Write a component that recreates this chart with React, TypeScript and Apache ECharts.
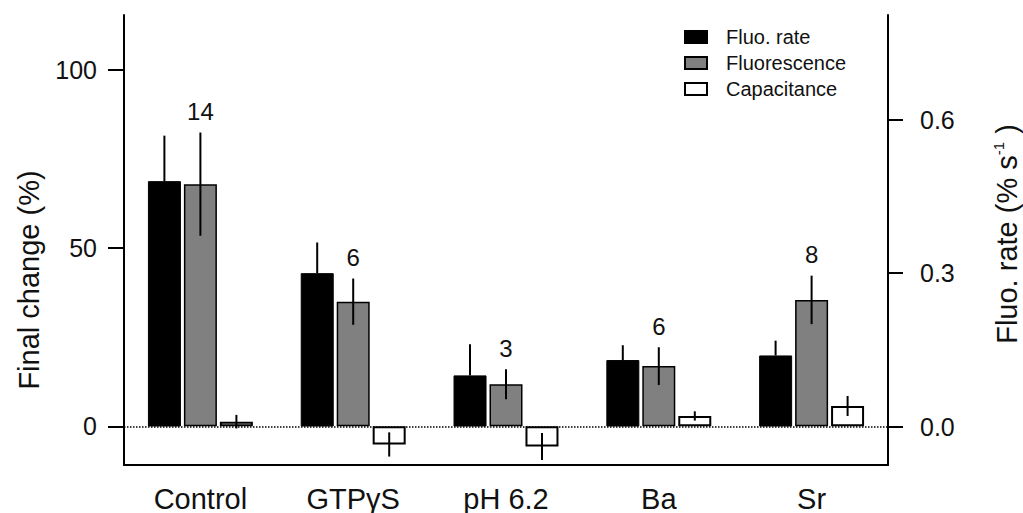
import React, { useEffect, useRef } from 'react';
import * as echarts from 'echarts';

const categories = ['Control', 'GTPγS', 'pH 6.2', 'Ba', 'Sr'];
const fluoRate = [0.48, 0.3, 0.1, 0.13, 0.139];
const fluoRateErr = [0.089, 0.06, 0.061, 0.029, 0.029];
const fluorescence = [68.0, 35.0, 11.8, 16.9, 35.5];
const fluorescenceErr = [14.5, 6.5, 4.2, 5.3, 6.8];
const capacitance = [1.3, -5.1, -5.7, 2.9, 5.7];
const capacitanceErr = [1.9, 3.4, 3.8, 1.3, 2.8];
const nCells = ['14', '6', '3', '6', '8'];
const leftTicks = [0, 50, 100];
const rightTicks = [0, 0.3, 0.6];

const FONT = '"Liberation Sans", Arial, Helvetica, sans-serif';
const INK = '#111';

function makeErr(
  name: string,
  means: number[],
  errs: number[],
  yIdx: number,
  offset: number,
  upOnly: boolean,
  labels?: string[]
) {
  return {
    type: 'custom',
    name,
    yAxisIndex: yIdx,
    z: 5,
    silent: true,
    data: means.map((m, i) => [i, m, errs[i]]),
    encode: { x: 0, y: 1 },
    renderItem: (params: any, api: any) => {
      const i = api.value(0);
      const m = api.value(1);
      const e = api.value(2);
      const p1 = api.coord([i, m + e]);
      const p0 = api.coord([i, upOnly ? m : m - e]);
      const x = p1[0] + offset;
      const children: any[] = [
        {
          type: 'line',
          shape: { x1: x, y1: p0[1], x2: x, y2: p1[1] },
          style: { stroke: '#000', lineWidth: 2 },
        },
      ];
      if (labels) {
        children.push({
          type: 'text',
          x,
          y: p1[1] - 21,
          style: {
            text: labels[params.dataIndex],
            fontSize: 24,
            fill: INK,
            align: 'center',
            verticalAlign: 'middle',
            fontFamily: FONT,
          },
        });
      }
      return { type: 'group', children };
    },
  };
}

export default function App() {
  const ref = useRef<HTMLDivElement>(null);
  useEffect(() => {
    if (!ref.current) return;
    const chart = echarts.init(ref.current, undefined, { renderer: 'svg' });
    const option: any = {
      animation: false,
      backgroundColor: '#fff',
      textStyle: { fontFamily: FONT },
      grid: { left: 124, right: 135, top: 15, bottom: 48, containLabel: false },
      legend: {
        orient: 'vertical',
        left: 684,
        top: 27,
        padding: 0,
        itemWidth: 22,
        itemHeight: 12,
        itemGap: 6,
        icon: 'rect',
        selectedMode: false,
        data: ['Fluo. rate', 'Fluorescence', 'Capacitance'],
        textStyle: { fontSize: 20, color: INK, fontFamily: FONT, padding: [0, 0, 0, 14] },
      },
      xAxis: {
        type: 'category',
        data: categories,
        position: 'bottom',
        axisLine: { onZero: false, lineStyle: { color: '#000', width: 2 } },
        axisTick: { show: false },
        axisLabel: { fontSize: 29, color: INK, margin: 19, fontFamily: FONT },
      },
      yAxis: [
        {
          type: 'value',
          position: 'left',
          min: -10.87,
          max: 115.5,
          axisLine: { show: true, lineStyle: { color: '#000', width: 2 } },
          axisTick: { show: true, customValues: leftTicks, length: 16, lineStyle: { color: '#000', width: 2 } },
          axisLabel: { customValues: leftTicks, fontSize: 25, margin: 27, color: INK, fontFamily: FONT },
          splitLine: { show: false },
        },
        {
          type: 'value',
          position: 'right',
          min: -0.0753,
          max: 0.805,
          axisLine: { show: true, lineStyle: { color: '#000', width: 2 } },
          axisTick: { show: true, customValues: rightTicks, length: 15, lineStyle: { color: '#000', width: 2 } },
          axisLabel: {
            customValues: rightTicks,
            fontSize: 25,
            margin: 32,
            color: INK,
            fontFamily: FONT,
            formatter: (v: number) => v.toFixed(1),
          },
          splitLine: { show: false },
        },
      ],
      series: [
        {
          name: 'Fluo. rate',
          type: 'bar',
          yAxisIndex: 1,
          data: fluoRate,
          barWidth: 33,
          barGap: '9%',
          itemStyle: { color: '#000', borderColor: '#000', borderWidth: 1 },
        },
        {
          name: 'Fluorescence',
          type: 'bar',
          yAxisIndex: 0,
          data: fluorescence,
          barWidth: 33,
          barGap: '9%',
          itemStyle: { color: '#808080', borderColor: '#000', borderWidth: 1.5 },
          markLine: {
            silent: true,
            symbol: ['none', 'none'],
            label: { show: false },
            lineStyle: { type: 'dotted', color: '#000', width: 1.5 },
            data: [{ yAxis: 0 }],
          },
        },
        {
          name: 'Capacitance',
          type: 'bar',
          yAxisIndex: 0,
          data: capacitance,
          barWidth: 33,
          barGap: '9%',
          itemStyle: { color: '#fff', borderColor: '#000', borderWidth: 2 },
        },
        makeErr('errFluoRate', fluoRate, fluoRateErr, 1, -36, true),
        makeErr('errFluorescence', fluorescence, fluorescenceErr, 0, 0, false, nCells),
        makeErr('errCapacitance', capacitance, capacitanceErr, 0, 36, false),
      ],
      graphic: [
        {
          type: 'text',
          x: 29,
          y: 280,
          rotation: Math.PI / 2,
          style: {
            text: 'Final change (%)',
            fontSize: 29,
            fill: INK,
            fontFamily: FONT,
            align: 'center',
            verticalAlign: 'middle',
          },
        },
        {
          type: 'text',
          x: 1007,
          y: 234,
          rotation: Math.PI / 2,
          style: {
            text: '{a|Fluo. rate (% s}{b|-1}{a| )}',
            fill: INK,
            fontFamily: FONT,
            align: 'center',
            verticalAlign: 'middle',
            rich: {
              a: { fontSize: 29, fill: INK, fontFamily: FONT, lineHeight: 32 },
              b: { fontSize: 15, fill: INK, fontFamily: FONT, verticalAlign: 'top' },
            },
          },
        },
      ],
    };
    chart.setOption(option);
    return () => chart.dispose();
  }, []);
  return (
    <div
      ref={ref}
      style={{ position: 'fixed', left: 0, top: 0, width: 1023, height: 513, background: '#fff' }}
    />
  );
}
